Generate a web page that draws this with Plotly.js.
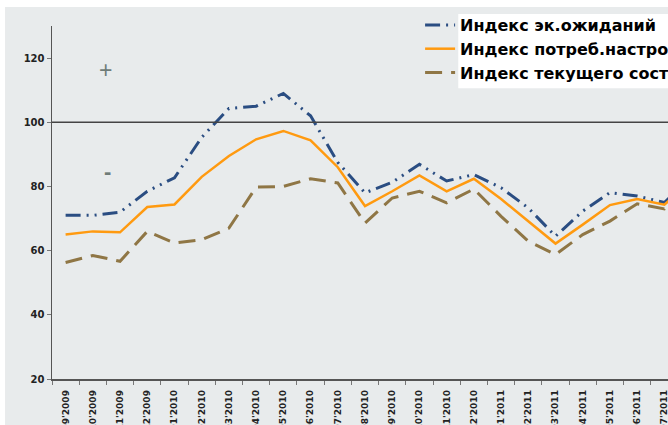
<!DOCTYPE html>
<html>
<head>
<meta charset="utf-8">
<script src="https://cdn.plot.ly/plotly-3.0.1.min.js"></script>
<style>
  html, body { margin: 0; padding: 0; background: #ffffff; overflow: hidden; }
  #wrap { width: 668px; height: 425px; overflow: hidden; }
</style>
</head>
<body>
<div id="wrap"><div id="plot"></div></div>
<script>
// Месяцы (последний выходит за правый край картинки)
const months = ["09'2009", "10'2009", "11'2009", "12'2009", "01'2010", "02'2010", "03'2010", "04'2010",
    "05'2010", "06'2010", "07'2010", "08'2010", "09'2010", "10'2010", "11'2010", "12'2010",
    "01'2011", "02'2011", "03'2011", "04'2011", "05'2011", "06'2011", "07'2011", "08'2011"];

// Значения индексов
const ekOzhidaniy = [71, 71, 72, 78.5, 82.7, 95.3, 104.3, 105, 109, 102, 87.5, 78, 81.3, 86.9, 81.7, 83.7,
    79.6, 73.3, 64.5, 72.3, 78.1, 77, 75, 83];
const potrebNastroeniy = [65, 66, 65.7, 73.6, 74.4, 83, 89.5, 94.7, 97.3, 94.4, 86, 73.9, 78.5, 83.4, 78.5, 82.4,
    76.1, 69.2, 62.2, 68.1, 74.2, 76.1, 74.3, 82];
const tekSostoyaniya = [56.3, 58.5, 56.7, 66, 62.4, 63.4, 67, 79.8, 80, 82.4, 81.1, 68.6, 76.4, 78.5, 74.9, 79.2,
    70.7, 62.9, 58.8, 65, 69.2, 74.6, 73, 81];

const seriesNames = ['Индекс эк.ожиданий', 'Индекс потреб.настроений', 'Индекс текущего состояния'];
const yTicks = [20, 40, 60, 80, 100, 120];

const bg = '#e8ebec';

const data = [
    {
        x: months, y: ekOzhidaniy, name: seriesNames[0], type: 'scatter', mode: 'lines',
        line: { color: '#2a4d82', width: 3, dash: '15px,6px,2px,6px,2px,6px' }
    },
    {
        x: months, y: potrebNastroeniy, name: seriesNames[1], type: 'scatter', mode: 'lines',
        line: { color: '#ff9a10', width: 2.5 }
    },
    {
        x: months, y: tekSostoyaniya, name: seriesNames[2], type: 'scatter', mode: 'lines',
        line: { color: '#8f7645', width: 3, dash: '17px,9px' }
    }
];

// график шире окна, правый край обрезается как на оригинале
const layout = {
    width: 760,
    height: 425,
    margin: { l: 52, r: 82, t: 26, b: 46, autoexpand: false },
    paper_bgcolor: '#ffffff',
    plot_bgcolor: bg,
    showlegend: true,
    legend: {
        x: 0.588, y: 1.051, xanchor: 'left', yanchor: 'top',
        bgcolor: 'rgba(0,0,0,0)',
        font: { family: 'DejaVu Sans', size: 16, color: '#000000', weight: 'bold' },
        tracegroupgap: 0
    },
    xaxis: {
        type: 'category',
        range: [-0.5, 22.5],
        showgrid: false,
        zeroline: false,
        showline: true,
        linecolor: '#555555',
        linewidth: 1.5,
        ticks: 'outside',
        tickson: 'boundaries',
        ticklen: 4,
        tickcolor: '#777777',
        tickangle: -90,
        ticklabelstandoff: 6,
        tickfont: { family: 'DejaVu Sans', size: 9, color: '#222222', weight: 'bold' },
        automargin: false,
        fixedrange: true
    },
    yaxis: {
        range: [20, 130],
        tickvals: yTicks,
        showgrid: false,
        zeroline: false,
        showline: true,
        linecolor: '#555555',
        linewidth: 1.5,
        ticks: 'outside',
        ticklen: 4,
        tickcolor: '#777777',
        tickfont: { family: 'DejaVu Sans', size: 10, color: '#222222', weight: 'bold' },
        automargin: false,
        fixedrange: true
    },
    shapes: [
        // серая подложка
        { type: 'rect', xref: 'paper', yref: 'paper', x0: -0.075, x1: 1.2, y0: -0.14, y1: 1.054,
          fillcolor: bg, line: { width: 0 }, layer: 'below' },
        // линия 100
        { type: 'line', xref: 'paper', yref: 'y', x0: 0, x1: 1, y0: 100, y1: 100,
          line: { color: '#444444', width: 1.5 } },
        // белый фон под текстом легенды
        { type: 'rect', xref: 'paper', yref: 'paper', x0: 0.649, x1: 1.2, y0: 0.824, y1: 1.034,
          fillcolor: '#ffffff', line: { width: 0 }, layer: 'above' }
    ],
    annotations: [
        { x: 1.46, y: 116.4, xref: 'x', yref: 'y', text: '+', showarrow: false,
          font: { family: 'Arial', size: 23, color: '#6f7c78' } },
        { x: 1.55, y: 84.7, xref: 'x', yref: 'y', text: '-', showarrow: false,
          font: { family: 'Arial', size: 22, color: '#6f7c78', weight: 'bold' } }
    ]
};

Plotly.newPlot('plot', data, layout, { displayModeBar: false, staticPlot: true });
</script>
</body>
</html>
